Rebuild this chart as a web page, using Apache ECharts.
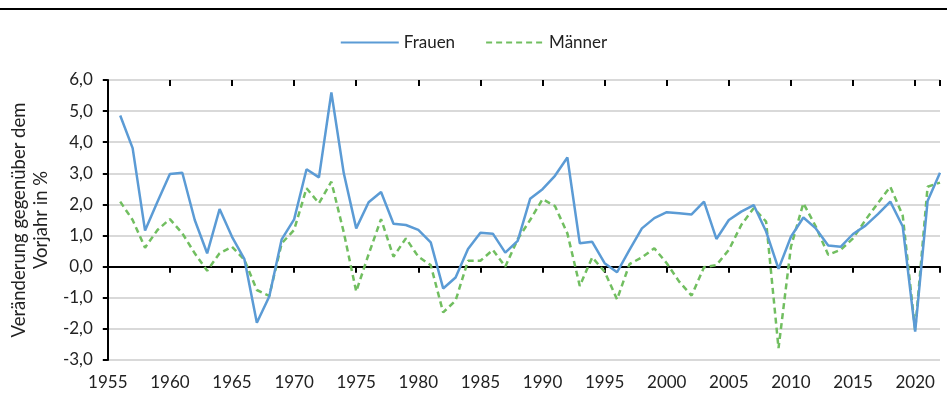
<!DOCTYPE html>
<html>
<head>
<meta charset="UTF-8">
<title>Veränderung gegenüber dem Vorjahr</title>
<script src="https://cdn.jsdelivr.net/npm/echarts@6/dist/echarts.min.js"></script>
<style>
  html, body { margin: 0; padding: 0; background: #fff; }
  #chart { width: 947px; height: 407px; }
</style>
</head>
<body>
<div id="chart"></div>
<script>
// Jahre 1956 - 2022
var years = [];
for (var y = 1956; y <= 2022; y++) years.push(y);

var frauen = [
  4.86, 3.81, 1.16, 2.09, 2.98, 3.02, 1.50, 0.43, 1.85, 0.96,
  0.24, -1.80, -0.96, 0.88, 1.52, 3.13, 2.87, 5.60, 3.00, 1.23,
  2.07, 2.40, 1.38, 1.34, 1.18, 0.78, -0.70, -0.35, 0.57, 1.09,
  1.06, 0.45, 0.83, 2.18, 2.49, 2.92, 3.51, 0.75, 0.80, 0.11,
  -0.18, 0.54, 1.23, 1.56, 1.75, 1.72, 1.68, 2.09, 0.89, 1.50,
  1.77, 1.98, 1.13, -0.07, 0.96, 1.58, 1.23, 0.68, 0.64, 1.05,
  1.32, 1.69, 2.09, 1.29, -2.09, 2.11, 3.02
];

var maenner = [
  2.09, 1.50, 0.61, 1.18, 1.53, 1.07, 0.43, -0.13, 0.43, 0.64,
  0.22, -0.75, -0.94, 0.75, 1.18, 2.52, 2.04, 2.73, 1.10, -0.80,
  0.40, 1.53, 0.32, 0.91, 0.32, 0.05, -1.47, -1.09, 0.19, 0.19,
  0.54, 0.00, 0.88, 1.50, 2.17, 1.95, 1.07, -0.62, 0.30, -0.16,
  -1.05, 0.08, 0.30, 0.59, 0.11, -0.48, -0.93, -0.02, 0.05, 0.54,
  1.34, 1.88, 1.45, -2.62, 0.64, 2.04, 1.29, 0.38, 0.54, 0.91,
  1.50, 2.04, 2.57, 1.64, -2.04, 2.57, 2.70
];

var xMin = 1955, xMax = 2022, xStep = 5;
var yMin = -3, yMax = 6, yStep = 1;

function pairs(vals) {
  return years.map(function (yr, i) { return [yr, vals[i]]; });
}

var font = 'Lato, "DejaVu Sans", sans-serif';
var myChart = echarts.init(document.getElementById('chart'));

var option = {
  animation: false,
  textStyle: { fontFamily: font },
  graphic: [{
    type: 'line',
    shape: { x1: 0, y1: 9, x2: 947, y2: 9 },
    style: { stroke: '#000', lineWidth: 2 }
  }],
  legend: {
    top: 29,
    left: 'center',
    itemWidth: 58,
    itemHeight: 10,
    itemGap: 30,
    itemStyle: { opacity: 0 },
    textStyle: { fontSize: 17, color: '#222', fontFamily: font },
    data: ['Frauen', 'Männer']
  },
  grid: { left: 107, right: 7, top: 80, bottom: 47, containLabel: false },
  xAxis: [{
    // untere Beschriftung
    type: 'value',
    min: xMin, max: xMax, interval: xStep,
    position: 'bottom',
    axisLine: { show: false, onZero: false },
    axisTick: { show: false },
    splitLine: { show: false },
    axisLabel: {
      fontSize: 17, color: '#222', margin: 14,
      showMaxLabel: false,
      formatter: function (v) { return v % 5 === 0 ? String(v) : ''; }
    }
  }, {
    // Nulllinie mit Strichen nach unten
    type: 'value',
    min: xMin, max: xMax, interval: xStep,
    position: 'bottom',
    axisLine: { show: true, onZero: true, lineStyle: { color: '#000', width: 2 } },
    axisTick: { show: true, inside: false, length: 6, lineStyle: { color: '#000', width: 2 } },
    axisLabel: { show: false },
    splitLine: { show: false }
  }, {
    // Striche nach oben
    type: 'value',
    min: xMin, max: xMax, interval: xStep,
    position: 'top',
    axisLine: { show: false, onZero: true },
    axisTick: { show: true, inside: true, length: 6, lineStyle: { color: '#000', width: 2 } },
    axisLabel: { show: false },
    splitLine: { show: false }
  }],
  yAxis: {
    type: 'value',
    min: yMin, max: yMax, interval: yStep,
    name: 'Veränderung gegenüber dem\nVorjahr in %',
    nameLocation: 'middle',
    nameGap: 52,
    nameRotate: 90,
    nameTextStyle: { fontSize: 18.5, color: '#222', lineHeight: 22, fontFamily: font },
    axisLine: { show: true, lineStyle: { color: '#000', width: 2 } },
    axisTick: { show: true, length: 5, lineStyle: { color: '#000', width: 2 } },
    axisLabel: {
      fontSize: 17, color: '#222', margin: 15,
      formatter: function (v) { return v.toFixed(1).replace('.', ','); }
    },
    splitLine: { show: true, lineStyle: { color: '#d9d9d9', width: 2 } }
  },
  series: [{
    name: 'Frauen',
    type: 'line',
    xAxisIndex: 1,
    data: pairs(frauen),
    showSymbol: false,
    symbol: 'none',
    z: 3,
    lineStyle: { color: '#5B9BD5', width: 2.5 },
    itemStyle: { color: '#5B9BD5' }
  }, {
    name: 'Männer',
    type: 'line',
    xAxisIndex: 1,
    data: pairs(maenner),
    showSymbol: false,
    symbol: 'none',
    z: 2,
    lineStyle: { color: '#71BE60', width: 2.5, type: [6, 4] },
    itemStyle: { color: '#71BE60' }
  }]
};

myChart.setOption(option);
</script>
</body>
</html>
